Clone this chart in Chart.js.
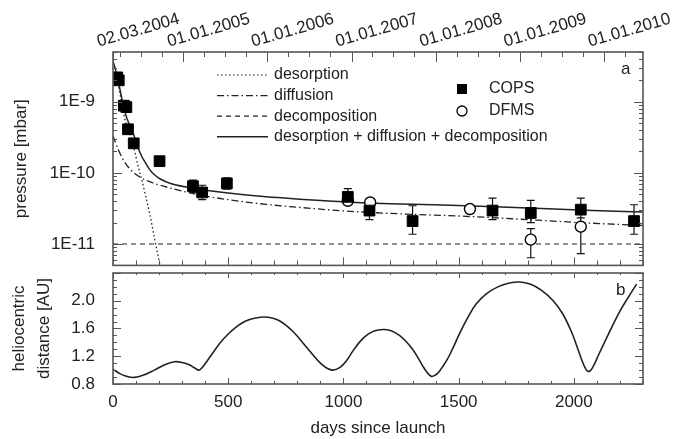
<!DOCTYPE html>
<html>
<head>
<meta charset="utf-8">
<script src="https://cdn.jsdelivr.net/npm/chart.js@4.4.1/dist/chart.umd.min.js"></script>
<style>
  html, body { margin: 0; padding: 0; background: #fff; }
  #wrap { position: relative; width: 680px; height: 439px; }
  canvas { position: absolute; left: 0; }
  #pressureChart { top: 0; }
  #helioChart { top: 272px; }
</style>
</head>
<body>
<div id="wrap">
  <canvas id="pressureChart" width="680" height="274"></canvas>
  <canvas id="helioChart" width="680" height="167"></canvas>
</div>
<script>
// ---- data ----
const X_MAX = 2300;

// COPS measurements (days since launch, pressure in mbar, error bar ends)
const copsDays = [18, 25, 47, 58, 65, 90, 202, 347, 387, 494, 1019, 1113, 1300, 1647, 1813, 2030, 2261];
const copsP    = [2.2e-9, 2.0e-9, 8.8e-10, 8.4e-10, 4.1e-10, 2.6e-10, 1.46e-10, 6.5e-11, 5.3e-11, 7.1e-11,
                  4.6e-11, 2.95e-11, 2.1e-11, 2.95e-11, 2.73e-11, 3.04e-11, 2.1e-11];
const copsLow  = [null, null, null, null, null, null, null, 5.3e-11, 4.2e-11, 5.9e-11,
                  3.6e-11, 2.2e-11, 1.37e-11, 2.2e-11, 2.0e-11, 2.33e-11, 1.37e-11];
const copsHigh = [null, null, null, null, null, null, null, 7.9e-11, 6.7e-11, 8.5e-11,
                  6.0e-11, 3.9e-11, 3.45e-11, 4.4e-11, 4.1e-11, 4.4e-11, 3.56e-11];

// DFMS measurements
const dfmsDays = [1019, 1116, 1549, 1813, 2030];
const dfmsP    = [4.05e-11, 3.83e-11, 3.1e-11, 1.15e-11, 1.75e-11];
const dfmsLow  = [null, null, null, 6.4e-12, 7.3e-12];
const dfmsHigh = [null, null, null, 1.64e-11, 2.33e-11];

// model curves
const desorpDays = [0, 10, 25, 50, 75, 90, 110, 125, 140, 160, 180, 200, 215];
const desorpP    = [3.4e-9, 2.6e-9, 1.6e-9, 6.0e-10, 3.3e-10, 2.3e-10, 1.2e-10, 8.0e-11, 5.0e-11,
                    2.6e-11, 1.2e-11, 5.8e-12, 3.2e-12];
const diffDays = [0, 10, 25, 50, 80, 120, 175, 250, 375, 500, 665, 809, 1012, 1250, 1532, 1800, 2050, 2300];
const diffP    = [3.3e-10, 2.7e-10, 2.05e-10, 1.42e-10, 1.08e-10, 8.6e-11, 7.2e-11, 6.1e-11, 4.9e-11, 4.2e-11,
                  3.6e-11, 3.27e-11, 2.9e-11, 2.65e-11, 2.45e-11, 2.2e-11, 1.98e-11, 1.82e-11];
const decompDays = [0, 2300];
const decompP    = [1e-11, 1e-11];
const totalDays = [0, 10, 25, 50, 75, 90, 110, 125, 140, 160, 180, 205, 250, 375, 500, 665, 809, 1012,
                   1250, 1532, 1800, 2050, 2300];
const totalP    = [3.7e-9, 2.9e-9, 1.8e-9, 7.5e-10, 4.4e-10, 3.4e-10, 2.2e-10, 1.7e-10, 1.4e-10, 1.1e-10,
                   9.4e-11, 8.2e-11, 7.1e-11, 5.9e-11, 5.2e-11, 4.6e-11, 4.27e-11, 3.9e-11, 3.65e-11,
                   3.45e-11, 3.2e-11, 2.98e-11, 2.82e-11];

// heliocentric distance (AU)
const helioDays = [0, 30, 60, 93, 130, 179, 220, 266, 300, 331, 355, 374, 390, 410, 440, 468, 500, 530,
                   560, 590, 620, 656, 690, 720, 750, 780, 810, 840, 870, 900, 925, 954, 985, 1012, 1040,
                   1069, 1100, 1127, 1150, 1178, 1210, 1243, 1270, 1300, 1325, 1344, 1365, 1382, 1400,
                   1416, 1450, 1474, 1503, 1540, 1575, 1620, 1670, 1720, 1764, 1810, 1860, 1910, 1950,
                   1990, 2020, 2045, 2062, 2080, 2110, 2150, 2200, 2240, 2272];
const helioAU   = [1.01, 0.95, 0.91, 0.895, 0.925, 1.0, 1.07, 1.12, 1.11, 1.078, 1.03, 1.0, 1.05, 1.14,
                   1.28, 1.405, 1.52, 1.61, 1.68, 1.725, 1.752, 1.765, 1.752, 1.715, 1.65, 1.56, 1.45,
                   1.33, 1.21, 1.1, 1.035, 1.0, 1.04, 1.13, 1.27, 1.4, 1.5, 1.555, 1.578, 1.585,
                   1.565, 1.50, 1.42, 1.30, 1.17, 1.06, 0.96, 0.91, 0.93, 0.98, 1.15, 1.31, 1.52, 1.76,
                   1.95, 2.1, 2.2, 2.255, 2.27, 2.24, 2.15, 2.0, 1.82, 1.55, 1.28, 1.06, 0.98, 1.03,
                   1.24, 1.52, 1.85, 2.07, 2.24];

// axis ticks and labels
const dateTickDays   = [0, 305, 670, 1035, 1400, 1766, 2131];
const dateTickLabels = ['02.03.2004', '01.01.2005', '01.01.2006', '01.01.2007', '01.01.2008', '01.01.2009', '01.01.2010'];
const quarterDays    = [30, 121, 213, 395, 486, 578, 760, 851, 943, 1125, 1216, 1308, 1491, 1582, 1674,
                        1856, 1947, 2039, 2221];
const pressureTicks  = [1e-11, 1e-10, 1e-9];
const pressureLabels = ['1E-11', '1E-10', '1E-9'];
const dayTicks       = [0, 500, 1000, 1500, 2000];
const auTicks        = [0.8, 1.2, 1.6, 2.0];

const legendLabels = ['desorption', 'diffusion', 'decomposition', 'desorption + diffusion + decomposition'];

// ---- styling ----
const INK = '#222';
const FRAME = '#555';
const FONT = "'Liberation Sans', Arial, Helvetica, sans-serif";
Chart.defaults.font.family = FONT;
Chart.defaults.font.size = 17;
Chart.defaults.color = INK;

const pts = (xs, ys) => xs.map((d, i) => ({ x: d, y: ys[i] }));

// fix the plot area so the two panels line up exactly
function fixWidth(w) {
    return s => { s.width = w; s.paddingTop = 0; s.paddingBottom = 0; s.paddingLeft = 0; s.paddingRight = 0; };
}
function fixHeight(h) {
    return s => { s.height = h; s.paddingTop = 0; s.paddingBottom = 0; s.paddingLeft = 0; s.paddingRight = 0; };
}

// frame with inward ticks on all four sides
function makeFramePlugin(cfg) {
    return {
        id: 'frameTicks',
        afterDraw(chart) {
            const { ctx, chartArea: a } = chart;
            const x = chart.scales.x, y = chart.scales.y;
            ctx.save();
            ctx.strokeStyle = FRAME;
            ctx.lineWidth = 1;
            ctx.beginPath();
            cfg.yTicks.forEach(([v, len]) => {
                const p = Math.round(y.getPixelForValue(v)) + 0.5;
                ctx.moveTo(a.left, p); ctx.lineTo(a.left + len, p);
                ctx.moveTo(a.right, p); ctx.lineTo(a.right - len, p);
            });
            cfg.bottomTicks.forEach(([v, len]) => {
                const p = Math.round(x.getPixelForValue(v)) + 0.5;
                ctx.moveTo(p, a.bottom); ctx.lineTo(p, a.bottom - len);
            });
            cfg.topTicks.forEach(([v, len]) => {
                const p = Math.round(x.getPixelForValue(v)) + 0.5;
                ctx.moveTo(p, a.top); ctx.lineTo(p, a.top + len);
            });
            ctx.stroke();
            ctx.lineWidth = 1.6;
            ctx.strokeRect(a.left, a.top, a.right - a.left, a.bottom - a.top);
            ctx.restore();
        }
    };
}

const hundredDays = [];
for (let d = 0; d <= X_MAX; d += 100) hundredDays.push([d, d % 500 === 0 ? 8 : 5]);

const logTicks = [];
for (let e = -12; e <= -9; e++) {
    for (let k = 1; k <= 9; k++) {
        const v = k * Math.pow(10, e);
        if (v >= 5e-12 && v <= 5e-9) logTicks.push([v, k === 1 ? 9 : 4]);
    }
}
const auMinor = [];
for (let i = 8; i <= 24; i++) auMinor.push([i / 10, i % 4 === 0 ? 8 : 4]);

// error bars drawn through the chart scales
const errorBarPlugin = {
    id: 'errorBars',
    beforeDatasetsDraw(chart) {
        const { ctx, scales: { x, y } } = chart;
        ctx.save();
        ctx.strokeStyle = '#111';
        ctx.lineWidth = 1.2;
        ctx.beginPath();
        [[copsDays, copsLow, copsHigh], [dfmsDays, dfmsLow, dfmsHigh]].forEach(([days, lo, hi]) => {
            days.forEach((d, i) => {
                if (lo[i] == null) return;
                const px = x.getPixelForValue(d);
                const y1 = y.getPixelForValue(lo[i]);
                const y2 = y.getPixelForValue(hi[i]);
                ctx.moveTo(px, y1); ctx.lineTo(px, y2);
                ctx.moveTo(px - 4, y1); ctx.lineTo(px + 4, y1);
                ctx.moveTo(px - 4, y2); ctx.lineTo(px + 4, y2);
            });
        });
        ctx.stroke();
        ctx.restore();
    }
};

const lineDashes = [[1.5, 2.5], [7, 3, 1.5, 3], [5, 4], []];

// legend and panel letter for panel a
const pressureLegendPlugin = {
    id: 'pressureLegend',
    afterDraw(chart) {
        const ctx = chart.ctx;
        ctx.save();
        ctx.font = '16px ' + FONT;
        ctx.fillStyle = INK;
        ctx.textBaseline = 'middle';
        ctx.strokeStyle = INK;
        legendLabels.forEach((label, i) => {
            const yy = 75 + i * 20.6;
            ctx.beginPath();
            ctx.lineWidth = i === 3 ? 1.5 : 1.2;
            ctx.setLineDash(lineDashes[i]);
            ctx.moveTo(217, yy); ctx.lineTo(268, yy);
            ctx.stroke();
            ctx.setLineDash([]);
            ctx.fillText(label, 274, yy);
        });
        // symbols
        ctx.fillStyle = '#000';
        ctx.fillRect(457, 84, 10, 10);
        ctx.beginPath();
        ctx.arc(462, 111, 5, 0, Math.PI * 2);
        ctx.lineWidth = 1.3;
        ctx.strokeStyle = '#000';
        ctx.stroke();
        ctx.fillStyle = INK;
        ctx.fillText('COPS', 489, 89);
        ctx.fillText('DFMS', 489, 111);
        ctx.font = '17px ' + FONT;
        ctx.fillText('a', 621, 69);
        ctx.restore();
    }
};

const helioLabelPlugin = {
    id: 'helioLabel',
    afterDraw(chart) {
        const ctx = chart.ctx;
        ctx.save();
        ctx.font = '17px ' + FONT;
        ctx.fillStyle = INK;
        ctx.textBaseline = 'middle';
        ctx.fillText('b', 616, 18);
        ctx.restore();
    }
};

// ---- panel a: pressure ----
new Chart(document.getElementById('pressureChart'), {
    type: 'line',
    data: {
        datasets: [
            {
                label: 'COPS', data: pts(copsDays, copsP), showLine: false,
                pointStyle: 'rect', pointRadius: 7.6, pointBackgroundColor: '#000', pointBorderColor: '#000',
                pointBorderWidth: 1
            },
            {
                label: 'DFMS', data: pts(dfmsDays, dfmsP), showLine: false,
                pointStyle: 'circle', pointRadius: 5.5, pointBackgroundColor: '#fff', pointBorderColor: '#000',
                pointBorderWidth: 1.4
            },
            {
                label: legendLabels[3], data: pts(totalDays, totalP), borderColor: INK, borderWidth: 1.5,
                pointRadius: 0, cubicInterpolationMode: 'monotone'
            },
            {
                label: legendLabels[0], data: pts(desorpDays, desorpP), borderColor: INK, borderWidth: 1.3,
                borderDash: lineDashes[0], pointRadius: 0, cubicInterpolationMode: 'monotone'
            },
            {
                label: legendLabels[1], data: pts(diffDays, diffP), borderColor: INK, borderWidth: 1.3,
                borderDash: lineDashes[1], pointRadius: 0, cubicInterpolationMode: 'monotone'
            },
            {
                label: legendLabels[2], data: pts(decompDays, decompP), borderColor: INK, borderWidth: 1.2,
                borderDash: lineDashes[2], pointRadius: 0
            }
        ]
    },
    options: {
        responsive: false,
        animation: false,
        devicePixelRatio: 1,
        layout: { padding: { left: 0, right: 37, top: 0, bottom: 2 } },
        plugins: { legend: { display: false }, tooltip: { enabled: false } },
        scales: {
            x: {
                type: 'linear', min: 0, max: X_MAX, display: false
            },
            xTop: {
                type: 'linear', position: 'top', min: 0, max: X_MAX,
                grid: { display: false, drawTicks: false },
                border: { display: false },
                afterBuildTicks: s => { s.ticks = dateTickDays.map(v => ({ value: v })); },
                afterFit: fixHeight(52),
                ticks: {
                    autoSkip: false, minRotation: 16, maxRotation: 16, padding: 0, labelOffset: -10,
                    callback: (v, i) => dateTickLabels[i]
                }
            },
            y: {
                type: 'logarithmic', position: 'left', min: 5e-12, max: 5e-9,
                grid: { display: false, drawTicks: false },
                border: { display: false },
                afterBuildTicks: s => { s.ticks = pressureTicks.map(v => ({ value: v })); },
                afterFit: fixWidth(113),
                ticks: { padding: 18, callback: (v, i) => pressureLabels[i] },
                title: { display: true, text: 'pressure [mbar]', padding: { top: 11, bottom: 0 } }
            }
        }
    },
    plugins: [errorBarPlugin, pressureLegendPlugin, makeFramePlugin({
        yTicks: logTicks,
        bottomTicks: hundredDays,
        topTicks: dateTickDays.map(d => [d, 10]).concat(quarterDays.map(d => [d, 5]))
    })]
});

// ---- panel b: heliocentric distance ----
new Chart(document.getElementById('helioChart'), {
    type: 'line',
    data: {
        datasets: [{
            label: 'heliocentric distance', data: pts(helioDays, helioAU), borderColor: INK, borderWidth: 1.6,
            pointRadius: 0, tension: 0.4
        }]
    },
    options: {
        responsive: false,
        animation: false,
        devicePixelRatio: 1,
        layout: { padding: { left: 0, right: 37, top: 1, bottom: 0 } },
        plugins: { legend: { display: false }, tooltip: { enabled: false } },
        scales: {
            x: {
                type: 'linear', min: 0, max: X_MAX,
                grid: { display: false, drawTicks: false },
                border: { display: false },
                afterBuildTicks: s => { s.ticks = dayTicks.map(v => ({ value: v })); },
                afterFit: fixHeight(55),
                ticks: { padding: 8, autoSkip: false, maxRotation: 0, callback: v => String(v) },
                title: { display: true, text: 'days since launch', padding: { top: 0, bottom: 0 } }
            },
            y: {
                type: 'linear', min: 0.8, max: 2.4,
                grid: { display: false, drawTicks: false },
                border: { display: false },
                afterBuildTicks: s => { s.ticks = auTicks.map(v => ({ value: v })); },
                afterFit: fixWidth(113),
                ticks: { padding: 18, callback: v => v.toFixed(1) },
                title: {
                    display: true, text: ['heliocentric', 'distance [AU]'],
                    padding: { top: 7, bottom: 0 }, font: { size: 17, lineHeight: 1.45 }
                }
            }
        }
    },
    plugins: [helioLabelPlugin, makeFramePlugin({
        yTicks: auMinor,
        bottomTicks: hundredDays.map(([d, l]) => [d, l - 2]),
        topTicks: hundredDays.map(([d, l]) => [d, l - 3])
    })]
});
</script>
</body>
</html>
